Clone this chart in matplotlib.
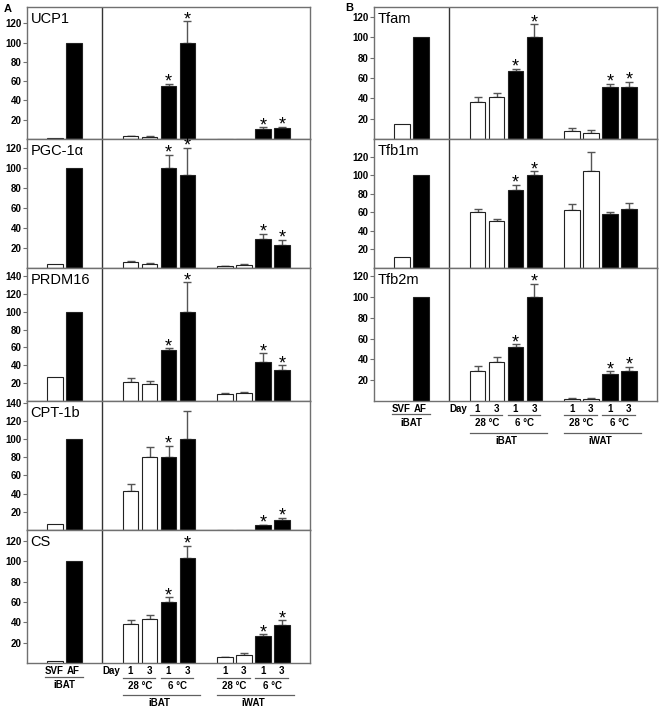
import numpy as np
import matplotlib
matplotlib.use("Agg")
import matplotlib.pyplot as plt
from matplotlib.transforms import blended_transform_factory

plt.rcParams["font.family"] = ["Liberation Sans", "DejaVu Sans"]

# group order: SVF, AF | iBAT 28C d1, d3, 6C d1, d3 | iWAT 28C d1, d3, 6C d1, d3
groups = ["SVF", "AF", "iBAT 28 d1", "iBAT 28 d3", "iBAT 6 d1", "iBAT 6 d3",
          "iWAT 28 d1", "iWAT 28 d3", "iWAT 6 d1", "iWAT 6 d3"]

genes_a = ["UCP1", "PGC-1\u03b1", "PRDM16", "CPT-1b", "CS"]
genes_b = ["Tfam", "Tfb1m", "Tfb2m"]

ucp1 = [1, 100, 3, 2.5, 55, 100, 0.3, 0.2, 10, 11]
ucp1_sem = [0, 0, 0.5, 0.5, 2, 22, 0, 0, 2, 1.5]
pgc1a = [4, 100, 6, 4.5, 100, 93, 2, 3.5, 29, 23]
pgc1a_sem = [0, 0, 1, 0.5, 13, 27, 0.3, 0.5, 5, 5.5]
prdm16 = [27, 100, 21.7, 18.7, 57, 100, 7.9, 9, 44, 35]
prdm16_sem = [0, 0, 3.8, 4, 2, 33, 0.6, 1.5, 9.5, 5]
cpt1b = [6.6, 100, 43, 80, 80, 100, 0.3, 0, 5, 11]
cpt1b_sem = [0, 0, 7.5, 11.5, 13, 31, 0, 0, 1, 2.6]
cs = [2.3, 100, 38, 43.3, 59.8, 103.7, 5.6, 7.9, 26.6, 37]
cs_sem = [0, 0, 4.4, 3.7, 4.9, 11.5, 0.5, 1.6, 1.5, 5]

tfam = [14.5, 100, 36, 41, 67.3, 100, 8.2, 6.2, 51.5, 51.5]
tfam_sem = [0, 0, 5.4, 4, 2, 13, 2.3, 2.3, 2.5, 4.5]
tfb1m = [11.5, 100, 60, 50.5, 83.6, 100, 62, 104.5, 58.4, 63.8]
tfb1m_sem = [0, 0, 3.5, 2.1, 5.8, 4, 6.8, 20.5, 1.6, 6.2]
tfb2m = [0.3, 100, 28.7, 38, 52, 100, 2.3, 2, 26, 28.7]
tfb2m_sem = [0, 0, 5.3, 4, 2.5, 13, 0.7, 0.5, 2.4, 4.2]

# indices of bars marked with an asterisk
stars_a = [[4, 5, 8, 9], [4, 5, 8, 9], [4, 5, 8, 9], [4, 8, 9], [4, 5, 8, 9]]
stars_b = [[4, 5, 8, 9], [4, 5], [4, 5, 8, 9]]

ymax_a = [137, 129, 149, 142, 131]
ymax_b = [130, 139, 128]

means_a = [ucp1, pgc1a, prdm16, cpt1b, cs]
sems_a = [ucp1_sem, pgc1a_sem, prdm16_sem, cpt1b_sem, cs_sem]
means_b = [tfam, tfb1m, tfb2m]
sems_b = [tfam_sem, tfb1m_sem, tfb2m_sem]

pos = np.array([1.45, 2.45, 5.45, 6.45, 7.45, 8.45, 10.42, 11.42, 12.42, 13.42])
fills = ["white", "black", "white", "white", "black", "black",
         "white", "white", "black", "black"]
W, H = 661, 709
FRAME = "#707070"


def draw_row(fig, box, label, mean, sem, stars, ymax):
    ax = fig.add_axes(box)
    ax.bar(pos, mean, width=0.84, color=fills, edgecolor="#222222",
           linewidth=0.8, zorder=2)
    sem = np.array(sem)
    has = sem > 0
    ax.errorbar(pos[has], np.array(mean)[has],
                yerr=[np.zeros(has.sum()), sem[has]], fmt="none",
                ecolor="#555555", elinewidth=1, capsize=3, capthick=1, zorder=1)
    for i in stars:
        ax.annotate("*", (pos[i], mean[i] + sem[i]), xytext=(0, -2),
                    textcoords="offset points", ha="center", va="baseline",
                    fontsize=13)
    ax.axvline(3.95, color="#333333", lw=1)
    ax.set_xlim(0, 14.9)
    ax.set_ylim(0, ymax)
    ax.set_yticks(np.arange(20, ymax, 20))
    ax.set_xticks([])
    ax.tick_params(axis="y", length=3, width=0.8, color=FRAME, pad=1,
                   labelsize=7)
    for t in ax.get_yticklabels():
        t.set_fontweight("bold")
    for s in ax.spines.values():
        s.set_color(FRAME)
        s.set_linewidth(1)
    ax.text(0.012, 0.965, label, transform=ax.transAxes, ha="left", va="top",
            fontsize=10.5)
    return ax


def bottom_labels(fig, ax, y0):
    tr = blended_transform_factory(ax.transData, fig.transFigure)

    def fy(py):
        return 1 - py / H

    def txt(x, py, s):
        fig.text(x, fy(py), s, transform=tr, ha="center", va="center",
                 fontsize=7, fontweight="bold")

    def line(x0, x1, py):
        fig.add_artist(plt.Line2D([x0, x1], [fy(py), fy(py)], transform=tr,
                                  color="#606060", lw=0.9))

    txt(pos[0], y0, "SVF")
    txt(pos[1], y0, "AF")
    line(pos[0] - 0.5, pos[1] + 0.5, y0 + 5)
    txt((pos[0] + pos[1]) / 2, y0 + 14, "iBAT")
    txt(4.45, y0, "Day")
    for k, start in enumerate([2, 6]):
        for j in range(2):
            a, b = pos[start + 2 * j], pos[start + 2 * j + 1]
            txt(a, y0, "1")
            txt(b, y0, "3")
            line(a - 0.4, b + 0.3, y0 + 6)
            txt((a + b) / 2, y0 + 14.5, ["28 \u00b0C", "6 \u00b0C"][j])
        line(pos[start] - 0.4, pos[start + 3] + 0.65, y0 + 23.5)
        txt((pos[start] + pos[start + 3]) / 2, y0 + 31.5, ["iBAT", "iWAT"][k])


fig = plt.figure(figsize=(W / 100, H / 100), dpi=100)

rows_a = [7, 139, 268, 401, 530, 663]
left_a, right_a = 27, 310
for r in range(5):
    box = [left_a / W, 1 - rows_a[r + 1] / H, (right_a - left_a) / W,
           (rows_a[r + 1] - rows_a[r]) / H]
    ax = draw_row(fig, box, genes_a[r], means_a[r], sems_a[r], stars_a[r],
                  ymax_a[r])
bottom_labels(fig, ax, 671.5)

rows_b = [7, 139, 268, 401]
left_b, right_b = 374, 657
for r in range(3):
    box = [left_b / W, 1 - rows_b[r + 1] / H, (right_b - left_b) / W,
           (rows_b[r + 1] - rows_b[r]) / H]
    ax = draw_row(fig, box, genes_b[r], means_b[r], sems_b[r], stars_b[r],
                  ymax_b[r])
bottom_labels(fig, ax, 409)

fig.text(4 / W, 1 - 9 / H, "A", fontsize=8, fontweight="bold", va="center")
fig.text(345 / W, 1 - 8 / H, "B", fontsize=8, fontweight="bold", va="center")

fig.savefig("out.png", dpi=100)
